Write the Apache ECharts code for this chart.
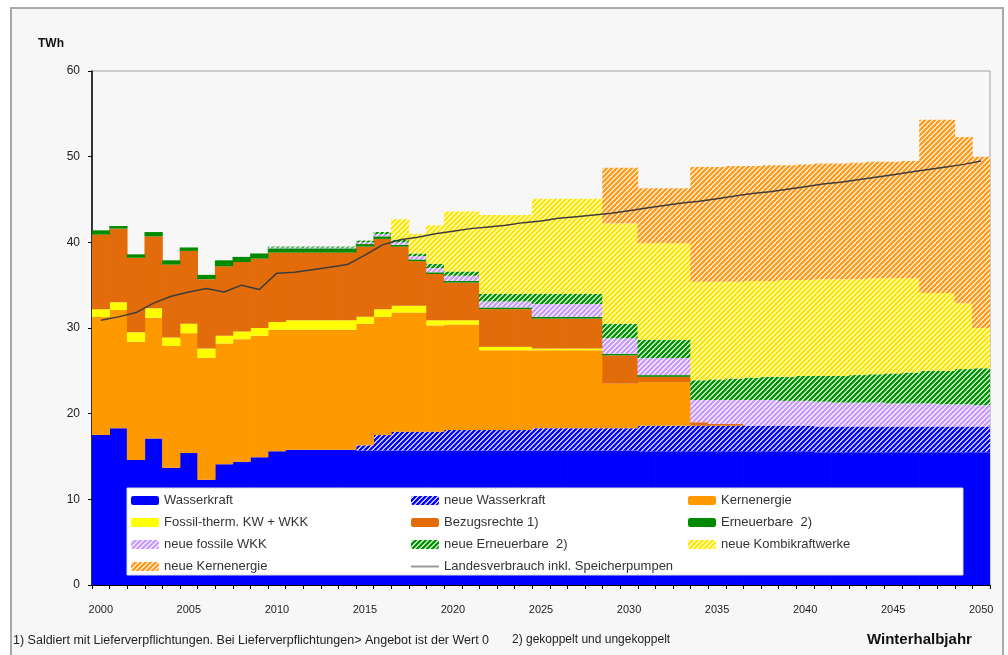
<!DOCTYPE html>
<html>
<head>
<meta charset="utf-8">
<title>Winterhalbjahr</title>
<script src="https://cdn.jsdelivr.net/npm/echarts@6/dist/echarts.min.js"></script>
<style>
    html, body { margin: 0; padding: 0; background: #ffffff; }
    #frame {
        position: absolute; left: 10px; top: 7px;
        width: 994px; height: 670px; box-sizing: border-box;
        border: 2px solid #a9a9a9; background: #f7f7f7;
    }
    #winter_chart { position: absolute; left: 0; top: 0; width: 1008px; height: 655px; }
</style>
</head>
<body>
<div id="frame"></div>
<div id="winter_chart"></div>
<script>

// Data (TWh, Winterhalbjahr)
// ------------------------------

var years = ['2000','2001','2002','2003','2004','2005','2006','2007','2008','2009',
    '2010','2011','2012','2013','2014','2015','2016','2017','2018','2019',
    '2020','2021','2022','2023','2024','2025','2026','2027','2028','2029',
    '2030','2031','2032','2033','2034','2035','2036','2037','2038','2039',
    '2040','2041','2042','2043','2044','2045','2046','2047','2048','2049','2050'];

var wasserkraft = [17.5, 18.3, 14.6, 17.1, 13.7, 15.4, 12.3, 14.1, 14.4, 14.9,
    15.6, 15.8, 15.8, 15.8, 15.8, 15.7, 15.7, 15.7, 15.7, 15.7,
    15.7, 15.7, 15.7, 15.7, 15.7, 15.7, 15.7, 15.7, 15.7, 15.7,
    15.7, 15.6, 15.6, 15.6, 15.6, 15.6, 15.6, 15.6, 15.6, 15.6,
    15.6, 15.5, 15.5, 15.5, 15.5, 15.5, 15.5, 15.5, 15.5, 15.5, 15.5];

var neueWasserkraft = [0, 0, 0, 0, 0, 0, 0, 0, 0, 0,
    0, 0, 0, 0, 0, 0.6, 1.8, 2.2, 2.2, 2.2,
    2.4, 2.4, 2.4, 2.4, 2.4, 2.6, 2.6, 2.6, 2.6, 2.6,
    2.6, 3.0, 3.0, 3.0, 3.0, 3.0, 3.0, 3.0, 3.0, 3.0,
    3.0, 3.0, 3.0, 3.0, 3.0, 3.0, 3.0, 3.0, 3.0, 3.0, 3.0];

var kernenergie = [13.8, 13.8, 13.8, 14.1, 14.2, 14.0, 14.2, 14.1, 14.3, 14.2,
    14.2, 14.0, 14.0, 14.0, 14.0, 14.2, 13.8, 13.9, 13.9, 12.4,
    12.3, 12.3, 9.3, 9.3, 9.3, 9.1, 9.1, 9.1, 9.1, 5.2,
    5.2, 5.1, 5.1, 5.1, 0, 0, 0, 0, 0, 0,
    0, 0, 0, 0, 0, 0, 0, 0, 0, 0, 0];

var fossil = [0.9, 0.9, 1.1, 1.1, 1.0, 1.1, 1.1, 0.9, 0.9, 0.9,
    0.9, 1.1, 1.1, 1.1, 1.1, 0.8, 0.9, 0.8, 0.8, 0.6,
    0.5, 0.5, 0.4, 0.4, 0.4, 0.2, 0.2, 0.2, 0.2, 0,
    0, 0, 0, 0, 0, 0, 0, 0, 0, 0,
    0, 0, 0, 0, 0, 0, 0, 0, 0, 0, 0];

var bezugsrechte = [8.7, 8.6, 8.7, 8.4, 8.5, 8.5, 8.1, 8.1, 8.1, 8.1,
    8.1, 7.9, 7.9, 7.9, 7.9, 8.2, 8.2, 6.9, 5.2, 5.4,
    4.4, 4.4, 4.4, 4.4, 4.4, 3.5, 3.5, 3.5, 3.5, 3.3,
    3.3, 0.6, 0.6, 0.6, 0.4, 0.2, 0.2, 0, 0, 0,
    0, 0, 0, 0, 0, 0, 0, 0, 0, 0, 0];

var erneuerbare = [0.5, 0.3, 0.4, 0.5, 0.5, 0.4, 0.5, 0.7, 0.6, 0.6,
    0.5, 0.5, 0.5, 0.5, 0.5, 0.3, 0.3, 0.2, 0.2, 0.2,
    0.2, 0.2, 0.2, 0.2, 0.2, 0.2, 0.2, 0.2, 0.2, 0.2,
    0.2, 0.2, 0.2, 0.2, 0, 0, 0, 0, 0, 0,
    0, 0, 0, 0, 0, 0, 0, 0, 0, 0, 0];

var neueFossileWKK = [0, 0, 0, 0, 0, 0, 0, 0, 0, 0,
    0.1, 0.1, 0.1, 0.1, 0.1, 0.2, 0.25, 0.3, 0.4, 0.5,
    0.6, 0.6, 0.7, 0.7, 0.7, 1.5, 1.5, 1.5, 1.5, 1.8,
    1.8, 2.0, 2.0, 2.0, 2.6, 2.8, 2.8, 3.0, 3.0, 2.9,
    2.9, 2.9, 2.8, 2.8, 2.8, 2.7, 2.7, 2.7, 2.6, 2.6, 2.5];

var neueErneuerbare = [0, 0, 0, 0, 0, 0, 0, 0, 0, 0,
    0.1, 0.1, 0.1, 0.1, 0.1, 0.2, 0.25, 0.3, 0.3, 0.5,
    0.5, 0.5, 0.9, 0.9, 0.9, 1.2, 1.2, 1.2, 1.2, 1.7,
    1.7, 2.1, 2.1, 2.1, 2.3, 2.4, 2.5, 2.6, 2.7, 2.8,
    2.9, 3.0, 3.1, 3.2, 3.3, 3.5, 3.6, 3.8, 3.9, 4.1, 4.3];

var neueKombikraftwerke = [0, 0, 0, 0, 0, 0, 0, 0, 0, 0,
    0, 0, 0, 0, 0, 0, 0, 2.4, 2.3, 4.5,
    7.0, 7.0, 9.2, 9.2, 9.2, 11.1, 11.1, 11.1, 11.1, 11.7,
    11.7, 11.3, 11.3, 11.3, 11.5, 11.4, 11.3, 11.3, 11.2, 11.3,
    11.2, 11.3, 11.3, 11.2, 11.2, 11.1, 11.0, 9.1, 9.1, 7.7, 4.7];

var neueKernenergie = [0, 0, 0, 0, 0, 0, 0, 0, 0, 0,
    0, 0, 0, 0, 0, 0, 0, 0, 0, 0,
    0, 0, 0, 0, 0, 0, 0, 0, 0, 6.5,
    6.5, 6.4, 6.4, 6.4, 13.4, 13.4, 13.5, 13.4, 13.5, 13.4,
    13.5, 13.5, 13.5, 13.6, 13.6, 13.6, 13.7, 20.2, 20.2, 19.4, 20.0];

var landesverbrauch = [30.9, 31.3, 31.8, 32.9, 33.7, 34.2, 34.6, 34.2, 35.0, 34.5,
    36.4, 36.5, 36.8, 37.1, 37.4, 38.5, 39.7, 40.3, 40.6, 41.0,
    41.3, 41.6, 41.8, 42.0, 42.3, 42.5, 42.8, 43.0, 43.2, 43.4,
    43.7, 44.0, 44.3, 44.6, 44.8, 45.1, 45.4, 45.7, 45.9, 46.2,
    46.5, 46.8, 47.0, 47.3, 47.6, 47.9, 48.2, 48.5, 48.8, 49.1, 49.5];

var yTicks = [0, 10, 20, 30, 40, 50, 60];


// Setup module
// ------------------------------

var EchartsWinterhalbjahr = function() {

    var FONT = '"Liberation Sans", Arial, sans-serif';

    // Diagonal hatch like the Excel pattern fills
    var hatch = function(color) {
        var c = document.createElement('canvas');
        c.width = 5;
        c.height = 5;
        var ctx = c.getContext('2d');
        ctx.fillStyle = '#ffffff';
        ctx.fillRect(0, 0, 5, 5);
        ctx.strokeStyle = color;
        ctx.lineWidth = 2.4;
        ctx.beginPath();
        ctx.moveTo(-1, 6); ctx.lineTo(6, -1);
        ctx.moveTo(-1, 1); ctx.lineTo(1, -1);
        ctx.moveTo(4, 6); ctx.lineTo(6, 4);
        ctx.stroke();
        return { image: c, repeat: 'repeat' };
    };

    var barSeries = function(name, data, color) {
        return {
            name: name,
            type: 'bar',
            stack: 'total',
            barWidth: '104%',
            itemStyle: { color: color, borderWidth: 0 },
            emphasis: { disabled: true },
            data: data
        };
    };

    var legendBase = function(left, top, data) {
        return {
            orient: 'vertical',
            left: left,
            top: top,
            padding: 0,
            itemGap: 9,
            itemWidth: 28,
            itemHeight: 9,
            selectedMode: false,
            textStyle: { color: '#333', fontSize: 13, fontFamily: FONT, lineHeight: 12 },
            data: data
        };
    };

    var _winterChart = function() {
        if (typeof echarts == 'undefined') {
            console.warn('Warning - echarts.min.js is not loaded.');
            return;
        }

        var chart_element = document.getElementById('winter_chart');
        if (!chart_element) return;

        var chart = echarts.init(chart_element, null, { renderer: 'canvas' });

        chart.setOption({
            backgroundColor: 'transparent',
            animation: false,
            textStyle: { fontFamily: FONT },

            grid: {
                left: 92,
                right: 18,
                top: 71,
                bottom: 70,
                show: true,
                borderColor: '#a0a0a0',
                borderWidth: 1,
                backgroundColor: 'transparent'
            },

            legend: [
                legendBase(131, 494, ['Wasserkraft', 'Fossil-therm. KW + WKK', 'neue fossile WKK', 'neue Kernenergie']),
                legendBase(410, 494, ['neue Wasserkraft', 'Bezugsrechte 1)', 'neue Erneuerbare  2)', {
                    name: 'Landesverbrauch inkl. Speicherpumpen',
                    itemStyle: { opacity: 0 },
                    lineStyle: { color: '#9a9a9a', width: 2 }
                }]),
                legendBase(688, 494, ['Kernenergie', 'Erneuerbare  2)', 'neue Kombikraftwerke'])
            ],

            xAxis: {
                type: 'category',
                data: years,
                boundaryGap: true,
                axisLine: { lineStyle: { color: '#000', width: 1 } },
                axisTick: { show: true, interval: 0, length: 4, lineStyle: { color: '#000' } },
                axisLabel: { interval: 4, color: '#222', fontSize: 11, margin: 19, fontFamily: FONT },
                splitLine: { show: false }
            },

            yAxis: {
                type: 'value',
                min: yTicks[0],
                max: yTicks[yTicks.length - 1],
                interval: 10,
                axisLine: { show: true, lineStyle: { color: '#000', width: 1.5 } },
                axisTick: { show: true, length: 4, lineStyle: { color: '#000' } },
                axisLabel: { color: '#222', fontSize: 12, margin: 12, fontFamily: FONT },
                splitLine: { show: false }
            },

            graphic: [
                // Legend box
                {
                    type: 'rect',
                    z: 3,
                    shape: { x: 127, y: 488, width: 836, height: 87 },
                    style: { fill: '#ffffff', stroke: '#d8d8d8', lineWidth: 1 }
                },
                {
                    type: 'text',
                    left: 38,
                    top: 38,
                    style: { text: 'TWh', font: 'bold 12px ' + FONT, fill: '#111' }
                },
                // Footnotes
                {
                    type: 'text',
                    left: 13,
                    top: 634,
                    style: {
                        text: '1) Saldiert mit Lieferverpflichtungen. Bei Lieferverpflichtungen> Angebot ist der Wert 0',
                        font: '12.5px ' + FONT, fill: '#222'
                    }
                },
                {
                    type: 'text',
                    left: 512,
                    top: 634,
                    style: { text: '2) gekoppelt und ungekoppelt', font: '12px ' + FONT, fill: '#222' }
                },
                {
                    type: 'text',
                    left: 867,
                    top: 632,
                    style: { text: 'Winterhalbjahr', font: 'bold 15px ' + FONT, fill: '#111' }
                }
            ],

            series: [
                barSeries('Wasserkraft', wasserkraft, '#0000ff'),
                barSeries('neue Wasserkraft', neueWasserkraft, hatch('#0000ff')),
                barSeries('Kernenergie', kernenergie, '#ff9900'),
                barSeries('Fossil-therm. KW + WKK', fossil, '#ffff00'),
                barSeries('Bezugsrechte 1)', bezugsrechte, '#e36c0a'),
                barSeries('Erneuerbare  2)', erneuerbare, '#008a00'),
                barSeries('neue fossile WKK', neueFossileWKK, hatch('#c79bff')),
                barSeries('neue Erneuerbare  2)', neueErneuerbare, hatch('#009300')),
                barSeries('neue Kombikraftwerke', neueKombikraftwerke, hatch('#ffe800')),
                barSeries('neue Kernenergie', neueKernenergie, hatch('#ff9a1a')),
                {
                    name: 'Landesverbrauch inkl. Speicherpumpen',
                    type: 'line',
                    data: landesverbrauch,
                    symbol: 'none',
                    z: 3,
                    lineStyle: { color: '#3c3c3c', width: 1.5 },
                    itemStyle: { color: '#8a8a8a' },
                    emphasis: { disabled: true }
                }
            ]
        });
    };

    return {
        init: function() {
            _winterChart();
        }
    };
}();


// Initialize module
// ------------------------------

document.addEventListener('DOMContentLoaded', function() {
    EchartsWinterhalbjahr.init();
});
</script>
</body>
</html>
